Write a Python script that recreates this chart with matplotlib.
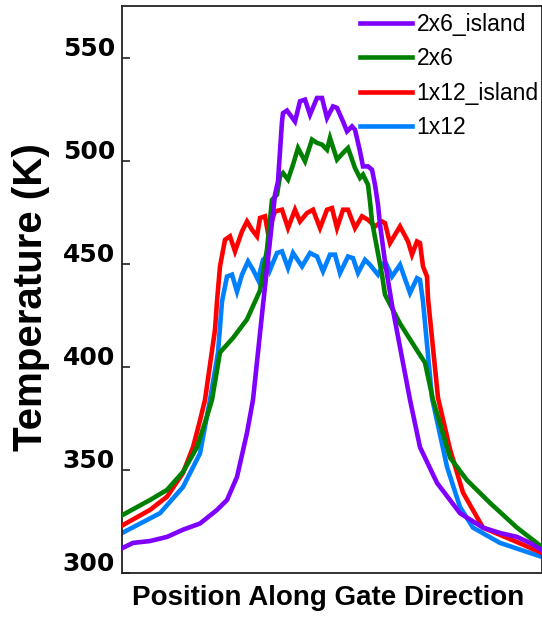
import matplotlib
matplotlib.use("Agg")
import matplotlib.pyplot as plt
from matplotlib.transforms import ScaledTranslation

# ---- data (position in arbitrary units along gate, temperature in K) ----
labels = ["2x6_island", "2x6", "1x12_island", "1x12"]
colors = ["#7F00FF", "#008000", "#FF0000", "#0080FF"]

pos_2x6_island = [0, 11, 28, 45, 61, 78, 95, 105, 115, 125, 131, 141, 153, 156, 160, 161, 165, 168, 173,
                  178, 183, 188, 195, 200, 205, 211, 215, 221, 225, 230, 233, 238, 241, 246, 250, 253, 256,
                  258, 263, 270, 288, 298, 315, 328, 338, 361, 378, 395, 408, 420]
temp_2x6_island = [312, 314.6, 315.5, 317.5, 321, 324, 330.6, 335.4, 346.6, 368, 384, 430, 483.5, 490, 519, 523,
                   524.3, 522.3, 519, 528.8, 529.6, 522.3, 530.4, 530.4, 520.7, 526.3, 525.6, 519, 514.2, 516.6,
                   515, 504.5, 497.2, 497.2, 495.6, 488.3, 478.6, 469, 451, 430, 384, 361, 343.7, 335.4, 329,
                   322, 319.4, 317.5, 314.6, 311]

pos_2x6 = [0, 28, 45, 61, 75, 85, 90, 98, 111, 125, 138, 145, 150, 155, 158, 161, 166, 171, 176, 183, 190,
           195, 200, 205, 208, 215, 221, 226, 233, 238, 241, 246, 248, 250, 255, 260, 263, 278, 295, 303, 311,
           328, 345, 368, 395, 420]
temp_2x6 = [328, 335.4, 340.3, 349, 361, 376, 384, 407, 414, 423, 437, 457, 481, 483.5, 492.4, 494, 490.8,
            498, 506.1, 499.7, 510.2, 508.6, 507.8, 505.3, 511, 500.5, 503.7, 506.1, 496.4, 491.6, 493.2,
            488.3, 480.2, 470.5, 457.6, 444.7, 435, 421, 408, 402, 384, 356, 345, 334, 322, 312.6]

pos_1x12_island = [0, 28, 45, 61, 71, 78, 83, 93, 95, 98, 103, 108, 113, 120, 125, 130, 135, 138, 143, 146,
                   153, 160, 166, 173, 178, 185, 191, 198, 205, 210, 215, 221, 226, 233, 240, 246, 253, 260,
                   263, 268, 278, 286, 290, 295, 298, 301, 305, 306, 316, 328, 341, 361, 395, 420]
temp_1x12_island = [323, 330.6, 337, 348.5, 361, 374, 384, 418, 431.7, 448.7, 461.6, 463.3, 456, 465.7,
                    470.5, 466.5, 463.3, 472.2, 473, 464.9, 475.4, 476.2, 467.3, 476.2, 470.5, 474.6, 476.2,
                    467.3, 476.2, 477, 467.3, 476.2, 476.2, 467.3, 473, 471.3, 468.1, 470.5, 469.7, 460,
                    468.1, 460.8, 454.4, 460.8, 460, 448.7, 443.8, 433.3, 385, 360, 339, 322, 315, 309.7]

pos_1x12 = [0, 38, 61, 78, 88, 96, 100, 105, 110, 115, 120, 126, 131, 136, 141, 145, 148, 155, 160, 166,
            171, 180, 188, 195, 201, 208, 213, 218, 226, 231, 236, 243, 248, 256, 263, 270, 278, 288, 295,
            298, 301, 310, 325, 338, 351, 378, 420]
temp_1x12 = [319.4, 329, 341.7, 358, 384, 407, 431.7, 443.8, 444.7, 436.5, 444.7, 451.1, 447.1, 442.2,
             451.9, 453.5, 447, 455.2, 456, 447.9, 455.2, 448.7, 455.2, 453.5, 446.3, 454.4, 454.4, 445.5,
             453.5, 452.7, 445.5, 451.9, 449.5, 444.7, 451.1, 443.8, 449.5, 435.8, 443, 442.2, 431.7, 385,
             351.5, 332, 322, 314.6, 307.8]

yticks = [300, 350, 400, 450, 500, 550]

series = [(pos_2x6_island, temp_2x6_island), (pos_2x6, temp_2x6),
          (pos_1x12_island, temp_1x12_island), (pos_1x12, temp_1x12)]

W, H = 542, 617
fig = plt.figure(figsize=(W / 100, H / 100), dpi=100)
ax = fig.add_axes([122 / W, 1 - 573 / H, 1 - 122 / W, (573 - 6) / H])

zorders = [5, 4, 3, 2]
handles = []
for (x, y), lab, c, z in zip(series, labels, colors, zorders):
    h, = ax.plot(x, y, color=c, lw=3.3, label=lab, zorder=z, solid_joinstyle="miter")
    handles.append(h)

ax.set_xlim(0, 420)
ax.set_ylim(300, 575)
ax.set_xticks([])
ax.set_yticks(yticks)
ax.tick_params(axis="y", direction="in", length=6, width=1.2, labelleft=False, color="#222222")
# tick labels sit a little above their tick marks in the reference
lbl_tr = ax.get_yaxis_transform() + ScaledTranslation(-7 / 100, 9 / 100, fig.dpi_scale_trans)
for t in yticks:
    ax.text(0, t, str(t), transform=lbl_tr, ha="right", va="center",
            fontfamily="DejaVu Sans", fontweight="bold", fontsize=18, clip_on=False)
for s in ax.spines.values():
    s.set_linewidth(1.3)
    s.set_color("#222222")

fig.text(31 / W, 1 - 297 / H, "Temperature (K)", rotation=90, ha="center", va="center",
         fontfamily="Liberation Sans", fontweight="bold", fontsize=29)
fig.text(328 / W, 1 - 598 / H, "Position Along Gate Direction", ha="center", va="center",
         fontfamily="Liberation Sans", fontweight="bold", fontsize=20)

leg = ax.legend(handles=handles, loc="upper left", bbox_to_anchor=(360 / W, 1 - 13 / H),
                bbox_transform=fig.transFigure, frameon=False, borderpad=0, borderaxespad=0,
                handlelength=2.27, handletextpad=0.2, labelspacing=0.5,
                prop={"family": "Liberation Sans", "size": 16.5})
for lh in leg.get_lines():
    lh.set_linewidth(3.3)

fig.savefig("out.png", dpi=100)
